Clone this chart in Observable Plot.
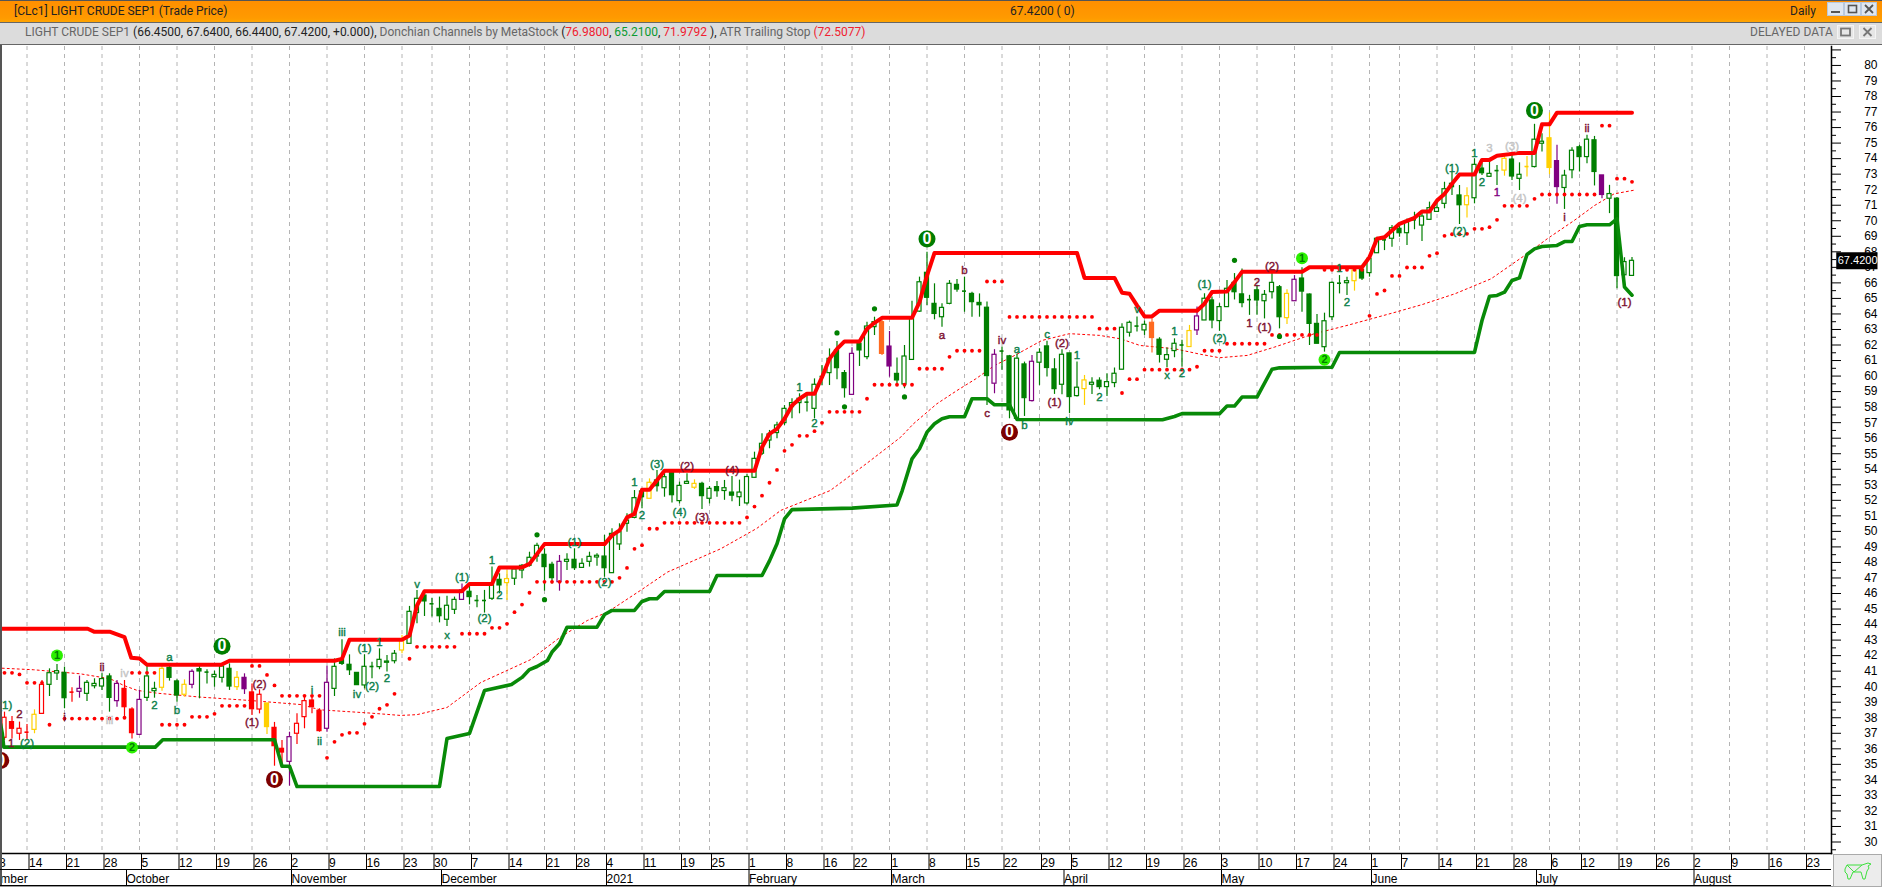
<!DOCTYPE html>
<html>
<head>
<meta charset="utf-8">
<script src="https://cdn.jsdelivr.net/npm/d3@7"></script>
<script src="https://cdn.jsdelivr.net/npm/@observablehq/plot@0.6"></script>
<style>
html,body{margin:0;padding:0;background:#fff;overflow:hidden}
#page{position:relative;width:1882px;height:887px;font-family:Roboto,"Noto Sans",sans-serif;font-size:12px;color:#222}
#chart{position:absolute;left:0;top:45px}
#chart svg{display:block}
.abs{position:absolute;white-space:nowrap}
#bar1{left:0;top:0;width:1882px;height:23px;background:linear-gradient(#ff8f00,#ff9a00 80%,#ffa400);border-top:1px solid #555;border-bottom:1px solid #666;box-sizing:border-box}
#bar2{left:0;top:23px;width:1882px;height:22px;background:#dcdcdc;border-bottom:1px solid #666;box-sizing:border-box}
.t1{top:4px;color:#222}
.t2{top:25px;color:#666}
.t2 b{font-weight:400;color:#222}
.rd{color:#f02030}.gr{color:#0a9a30}
.btn{background:#dfe6ef;border:1px solid #b9c8dc;box-sizing:border-box;height:14px;top:2px}
.btn2{background:#e6e6e6;border:1px solid #f4f4f4;box-sizing:border-box;height:14px;top:25px}
.btn svg,.btn2 svg{display:block;margin:auto}
</style>
</head>
<body>
<div id="page">
  <div id="chart"></div>
  <div class="abs" id="bar1"></div>
  <div class="abs" id="bar2"></div>
  <div class="abs t1" style="left:14px">[CLc1] LIGHT CRUDE SEP1 (Trade Price)</div>
  <div class="abs t1" style="left:1010px">67.4200 ( 0)</div>
  <div class="abs t1" style="left:1790px">Daily</div>
  <div class="abs btn" style="left:1827px;width:17px"><svg width="15" height="12"><rect x="3" y="8" width="9" height="2" fill="#555"/></svg></div>
  <div class="abs btn" style="left:1844px;width:17px"><svg width="15" height="12"><rect x="3.5" y="2.5" width="8" height="7" fill="none" stroke="#555" stroke-width="1.6"/></svg></div>
  <div class="abs btn" style="left:1861px;width:16px"><svg width="14" height="12"><path d="M3 2L11 10M11 2L3 10" stroke="#555" stroke-width="1.8"/></svg></div>
  <div class="abs t2" style="left:25px">LIGHT CRUDE SEP1 <b>(66.4500, 67.6400, 66.4400, 67.4200, +0.000),</b> Donchian Channels by MetaStock <b>(</b><span class="rd">76.9800</span><b>,</b> <span class="gr">65.2100</span><b>,</b> <span class="rd">71.9792</span> <b>),</b> ATR Trailing Stop <span class="rd">(72.5077)</span></div>
  <div class="abs t2" style="left:1750px">DELAYED DATA</div>
  <div class="abs btn2" style="left:1837px;width:17px"><svg width="15" height="12"><rect x="3" y="2.5" width="9" height="7" fill="none" stroke="#777" stroke-width="1.8"/></svg></div>
  <div class="abs btn2" style="left:1859px;width:17px"><svg width="15" height="12"><path d="M3.5 2L11.5 10M11.5 2L3.5 10" stroke="#777" stroke-width="1.8"/></svg></div>
  <div class="abs" style="left:0;top:45px;width:2px;height:842px;background:#555"></div>
  <div class="abs" style="left:0;top:869px;width:1831px;height:1px;background:#000"></div>
  <div class="abs" style="left:0;top:885px;width:1831px;height:1px;background:#000"></div>
  <div class="abs" style="left:0;top:886px;width:1882px;height:1px;background:#999"></div>
  <div class="abs" style="left:1833px;top:854px;width:49px;height:33px;background:#ececec;border:1px solid #aaa;box-sizing:border-box">
    <svg width="47" height="31"><path d="M11 14L13 10H28L34 8L37 9L34 11L35 13L33 16L31 24H29L27 17H19L16 24H14L13 19L11 17ZM13 10L20 17M28 10L20 17" fill="none" stroke="#3fe03f" stroke-width="1"/></svg>
  </div>
</div>
<script>
// Bars are numbered by trading session; session 0 is 14 September 2020.
const firstSession = -3;
const opens = [
36.71,37.72,36.97,37.07,37.22,38.25,40.12,40.85,40.89,39.65,
39.67,39.54,40.03,40.01,40.66,39.07,39.86,38.53,36.90,39.28,
39.71,39.93,41.21,40.34,39.48,40.12,41.13,40.94,40.61,40.57,
41.15,39.97,40.57,39.63,38.53,38.92,37.35,36.00,35.16,36.97,
38.04,39.11,38.45,37.29,39.86,41.73,41.41,40.89,40.08,41.30,
41.26,41.54,41.64,42.33,42.76,44.74,45.87,45.34,45.01,44.31,
44.95,45.59,46.11,45.55,45.55,45.66,46.88,46.67,46.95,47.48,
47.78,48.38,48.49,47.85,46.73,48.04,48.17,47.65,48.04,48.32,
48.38,47.31,49.16,50.49,50.87,52.57,52.10,53.28,52.78,53.81,
51.95,53.06,52.81,53.06,52.10,52.85,52.60,52.50,52.20,51.80,
53.45,55.00,55.85,56.33,56.97,58.00,58.26,58.32,57.89,59.97,
60.19,61.65,60.19,58.79,62.08,61.22,63.15,63.47,61.90,60.14,
59.46,61.04,64.15,66.65,64.65,63.79,64.65,65.87,65.47,65.29,
64.71,64.40,59.51,61.61,61.27,57.25,60.75,58.39,60.86,61.91,
60.43,59.44,61.46,58.71,59.16,59.44,59.70,59.29,59.55,60.41,
62.79,63.22,62.94,63.43,62.34,61.05,61.61,62.00,61.87,62.94,
63.58,64.87,63.54,64.44,66.00,65.26,64.92,65.52,64.82,65.40,
65.72,63.73,64.82,66.28,65.25,63.36,61.86,63.79,65.98,65.98,
66.11,66.84,66.63,67.91,68.77,68.84,69.48,69.20,70.06,69.69,
70.06,70.57,71.09,72.38,71.63,71.00,71.45,73.36,72.83,73.23,
73.23,73.94,72.70,73.49,73.46,74.96,75.31,73.84,72.11,73.25,
74.73,74.10,75.18,72.92,71.42,71.42,66.49,66.45];
const highs = [
38.36,38.08,37.72,37.57,38.51,40.40,41.15,41.43,41.26,39.93,
40.68,40.40,40.51,40.83,40.83,40.40,40.40,38.64,39.76,41.47,
40.29,41.30,41.37,40.44,40.44,41.09,41.32,41.09,41.00,41.47,
41.47,40.98,40.83,40.18,39.80,38.92,37.70,36.54,37.07,38.25,
39.43,39.43,38.58,41.32,41.79,43.02,42.05,40.89,42.05,41.58,
42.44,42.01,42.33,43.30,45.17,46.20,46.20,45.70,45.77,45.83,
45.77,46.62,46.62,45.87,46.20,47.70,47.27,47.48,47.70,47.87,
48.66,49.24,48.88,48.02,48.45,48.56,48.88,48.23,48.66,48.56,
49.74,50.17,50.49,51.13,52.63,52.74,53.38,53.92,53.81,53.92,
53.17,53.71,53.32,53.17,52.89,53.21,53.28,53.54,53.30,53.66,
55.10,56.28,56.50,57.03,58.10,58.54,58.86,58.86,59.82,60.68,
61.75,62.23,60.36,61.82,62.29,63.47,63.79,63.58,62.87,61.17,
61.97,64.82,66.37,67.98,65.94,64.65,66.15,66.22,66.37,65.40,
65.29,64.77,61.70,61.87,61.33,61.40,60.90,61.33,61.76,62.25,
61.12,61.70,61.46,60.90,60.04,59.89,59.89,60.15,60.52,63.37,
63.54,63.80,63.54,63.69,62.47,61.80,62.40,62.30,63.26,64.44,
65.30,65.09,64.66,66.16,66.60,66.90,65.20,65.84,65.51,66.63,
65.83,65.55,66.47,66.97,65.29,63.96,64.05,66.05,66.47,66.37,
67.01,67.05,67.76,68.94,69.05,69.69,69.80,70.12,70.55,70.55,
71.20,71.30,72.48,73.13,72.27,72.12,73.99,73.71,73.92,73.56,
74.14,74.31,73.73,74.14,76.21,75.61,76.94,74.86,73.25,74.70,
74.86,75.50,75.43,72.92,72.28,71.49,67.62,67.64];
const lows = [
36.54,36.64,36.54,36.54,36.97,38.25,39.37,40.40,38.58,39.00,
39.26,39.05,39.86,39.76,38.36,38.68,37.93,36.64,36.86,39.05,
39.26,39.71,40.36,39.00,39.33,39.86,39.22,40.18,39.97,40.23,
39.76,39.76,39.50,38.15,38.25,36.92,34.88,34.88,33.60,36.28,
37.29,38.25,37.07,37.07,39.37,41.37,40.72,40.08,39.86,40.51,
41.09,40.94,41.47,42.12,42.76,44.05,44.52,44.48,44.11,43.88,
44.65,45.55,45.27,45.08,44.74,45.55,45.98,45.55,46.52,46.95,
47.70,48.02,46.15,46.62,46.15,47.48,47.48,47.65,47.70,47.76,
47.05,47.31,48.77,49.95,50.81,51.45,52.10,52.53,52.20,51.82,
51.77,53.06,52.70,51.41,51.77,52.20,52.00,51.90,51.60,51.70,
53.45,54.89,55.32,55.96,56.82,57.25,57.57,57.68,57.25,59.39,
59.39,59.76,58.58,58.75,60.62,61.05,62.61,61.32,59.93,59.39,
59.18,61.04,64.10,64.54,63.62,63.15,64.59,65.40,64.11,63.79,
63.79,58.11,58.86,60.37,57.25,57.25,57.40,58.33,59.40,59.94,
58.82,58.80,57.58,58.65,58.11,58.82,59.12,58.69,59.25,60.41,
62.51,62.83,62.62,61.48,60.84,60.54,61.18,60.58,61.87,62.62,
63.58,63.05,62.88,64.44,64.90,64.40,63.91,63.91,63.68,64.97,
63.04,63.32,64.82,64.11,61.97,62.08,61.54,63.58,65.29,65.19,
65.47,66.15,66.37,67.91,68.08,68.30,68.94,68.41,69.42,68.66,
70.06,70.57,70.77,71.63,69.76,70.17,71.09,72.91,72.81,72.27,
72.87,72.59,71.95,72.81,73.40,74.43,72.97,71.06,70.73,72.71,
73.14,73.67,72.24,71.42,70.46,65.63,66.49,66.44];
const closes = [
38.00,37.29,37.29,37.07,38.19,40.12,40.87,41.00,39.26,39.65,
39.86,40.25,40.18,40.49,39.28,40.18,38.68,37.01,39.15,40.66,
39.86,41.15,40.57,39.43,40.12,40.96,40.98,40.94,40.76,41.30,
40.01,40.57,39.84,38.55,39.48,37.40,36.17,35.76,36.75,37.61,
39.07,38.70,37.14,40.25,41.28,41.47,41.06,40.10,41.28,41.30,
41.73,41.62,42.12,43.06,44.82,45.66,45.49,45.34,44.54,45.21,
45.59,46.20,45.77,45.55,45.55,46.67,46.52,46.93,47.55,47.78,
48.30,49.07,47.70,46.99,48.04,48.17,47.63,47.91,48.36,48.43,
47.63,49.84,49.95,50.70,52.14,52.20,53.13,52.91,53.49,52.33,
52.93,53.19,53.06,52.27,52.74,52.59,52.78,52.30,52.50,53.50,
54.67,55.64,56.24,56.82,57.89,58.26,58.54,58.32,59.44,59.97,
61.11,60.51,59.22,61.43,61.65,63.19,63.47,61.43,60.62,59.72,
61.26,63.68,66.04,65.04,64.00,64.39,65.94,65.57,65.47,64.76,
64.56,60.00,61.37,61.61,57.79,61.12,58.58,60.92,61.50,60.52,
59.16,61.37,58.65,59.25,59.72,59.57,59.29,59.61,60.15,63.11,
63.43,63.22,63.30,62.45,61.37,61.35,62.08,62.00,62.90,63.84,
64.98,63.58,64.44,65.62,65.40,64.70,64.92,64.87,65.23,66.00,
63.79,65.29,66.20,65.44,63.36,62.08,63.53,66.00,65.98,66.11,
66.80,66.28,67.55,68.84,68.77,69.52,69.20,69.91,70.06,70.27,
70.81,70.81,72.03,72.16,71.00,71.58,73.60,73.06,73.02,73.23,
73.99,72.85,72.96,73.49,75.22,75.09,73.40,72.17,72.90,74.51,
74.10,75.22,73.14,71.66,71.72,66.44,67.34,67.42];
const colorRuns = [[-3,0,"r"],[1,1,"y"],[2,2,"r"],[3,5,"g"],[6,6,"r"],[7,7,"p"],[8,11,"g"],[12,12,"p"],[13,14,"r"],[15,15,"p"],
 [16,17,"g"],[18,18,"y"],[19,20,"g"],[21,21,"y"],[22,22,"p"],[23,27,"g"],[28,28,"y"],[29,29,"p"],[30,31,"r"],[32,32,"y"],
 [33,34,"r"],[35,35,"p"],[36,39,"r"],[40,40,"p"],[41,49,"g"],[50,50,"y"],[51,57,"g"],[58,58,"p"],[59,63,"g"],[64,64,"y"],
 [65,70,"g"],[71,71,"p"],[72,82,"g"],[83,83,"y"],[84,88,"g"],[89,89,"y"],[90,109,"g"],[110,110,"p"],[111,113,"g"],[114,114,"o"],
 [115,115,"p"],[116,128,"g"],[129,129,"p"],[130,133,"g"],[134,134,"p"],[135,140,"g"],[141,141,"y"],[142,149,"g"],[150,150,"o"],
 [151,154,"g"],[155,155,"y"],[156,156,"p"],[157,167,"g"],[168,168,"y"],[169,169,"p"],[170,176,"g"],[177,177,"y"],[178,191,"g"],
 [192,192,"y"],[193,196,"g"],[197,197,"y"],[198,199,"g"],[200,200,"y"],[201,202,"g"],[203,203,"y"],[204,204,"p"],[205,209,"g"],
 [210,210,"p"],[211,214,"g"]];

const redX = [-3.53,8.1,9,11.1,13,13.9,15,16,25.9,27,41,42,43,50,51,52,53,58,59,62,63,66,67,69,77,78,79,80,81,82,83,85,97,98,99,100,101,102,103,104,105,106,107,108,109,111,112,113,114,118,119,120,121,140,141,145,146,147,148,149,150,151,156,157,158,160,161,162,170,171,178,179,180,181,182,183,185,186,187,188,189,190,191,193,194,195,196,199,201,202,203,204,214];
const redY = [43.73,43.73,43.53,43.53,43.19,41.86,41.82,41.41,41.41,41.67,41.67,41.79,43.02,43.02,43.30,45.23,46.15,46.15,46.62,46.62,47.68,47.68,47.91,49.18,49.18,49.74,50.06,50.90,51.13,52.68,52.68,53.90,53.90,55.42,56.28,56.60,57.25,58.11,58.54,58.86,58.86,59.93,61.11,61.75,62.23,62.23,63.04,63.43,63.75,63.75,64.76,66.47,67.93,67.93,66.32,66.32,65.37,65.30,64.55,63.84,63.84,64.21,64.21,64.66,65.41,65.45,66.05,66.71,66.71,67.01,67.01,67.66,68.84,68.94,69.37,69.80,70.19,70.60,70.60,71.30,71.73,72.38,72.98,72.98,73.92,73.92,74.18,74.37,74.37,76.21,76.21,76.96,76.96];
const greenX = [-3.53,-3.3,-3.1,17.1,18.1,33,34,35,36,55,56,59,61,64.6,66,67,68,69.4,70,71,72,76,77,78,81,82,83,84,85,91,92,98,99,100,101,102,110,116,116.7,118,119,120,121,122,123,125,126,128,129,131,132,151.4,153,154,159,160,161,162,164,166,167,174,175,193,194,195,196,197,198,199,200,201,202,204,205,206,207,208,211,212,213,214];
const greenY = [37.61,37.0,36.11,36.11,36.58,36.58,34.88,34.88,33.57,33.57,36.66,36.99,39.75,40.14,40.6,41.1,41.3,41.69,42.23,42.76,43.83,43.83,44.65,44.91,44.91,45.49,45.66,45.66,46.13,46.13,47.16,47.16,48.1,49.2,50.8,51.4,51.5,51.7,52.63,54.67,55.32,56.39,56.93,57.25,57.38,57.38,58.54,58.54,58.15,58.15,57.20,57.19,57.40,57.58,57.58,58.07,58.07,58.65,58.65,60.44,60.53,60.57,61.52,61.52,63.58,65.14,65.19,65.40,66.15,66.32,67.83,68.19,68.34,68.41,68.66,68.66,69.63,69.74,69.74,70.12,65.73,65.21];
const midX = [-3.3,0.9,7.1,11.1,12.9,14.7,17.4,23.1,29.8,36.5,39.1,45.8,49.8,52,56,60.5,67.1,71.1,74.7,77.4,81.8,85.4,92.5,97.3,100.5,107.1,112,116.5,118.2,121.3,124,126.5,129,131.7,135.3,139,143,145.8,148.4,153,156.5,159,162.7,166.3,171.6,176,179.2,182,186,190.4,195.2,200,202.7,206.3,209,211.6,214.4];
const midY = [41.19,41.09,40.83,40.51,40.08,39.76,39.58,39.33,39.11,38.85,38.51,38.30,38.15,38.20,38.66,40.27,41.73,43.19,44.26,44.80,46.20,47.38,48.88,50.19,51.35,52.63,54.39,56.07,56.93,58.21,59.07,59.82,60.68,61.33,62.29,62.73,62.62,62.40,61.97,61.76,61.40,61.18,61.33,61.86,62.72,63.26,63.68,64.05,64.60,65.30,66.26,67.87,68.84,70.02,70.98,71.73,71.98];
// ATR trailing stop: [first session, last session, stop level]
const atrRuns = [[-3,-2,40.89],[-1,-1,40.79],[0,2,40.25],[3,3,37.55],[5,12,37.95],[13,13,38.0],[14,17,40.89],[18,21,37.55],[22,24,38.06],[25,25,38.25],[26,29,38.77],[30,31,41.34],[32,32,40.76],[33,33,40.08],[34,39,39.41],[40,40,35.42],[41,41,36.45],[42,42,36.9],[43,44,37.03],[45,45,37.61],[46,46,38.06],[47,47,38.58],[48,48,38.83],[49,49,39.54],[51,51,41.8],[52,57,42.57],[58,61,43.41],[62,63,43.79],[64,64,44.05],[65,65,44.8],[66,66,45.29],[67,67,46.05],[68,78,46.75],[79,79,47.01],[80,80,47.65],[81,81,48.88],[82,82,49.11],[83,84,50.17],[85,95,50.55],[96,96,50.9],[97,97,51.6],[98,98,52.3],[99,99,53.13],[100,100,53.96],[101,101,55.19],[102,102,55.57],[103,104,56.15],[105,105,56.45],[106,106,56.99],[107,111,57.7],[112,112,58.54],[113,118,59.44],[119,122,60.47],[123,123,61.24],[124,127,61.63],[128,130,66.09],[131,142,63.81],[143,145,63.05],[146,146,58.91],[147,148,59.8],[149,155,60.41],[156,156,60.6],[157,159,61.63],[160,165,62.08],[166,172,62.65],[173,178,66.84],[179,179,63.88],[180,180,65.29],[181,181,65.51],[182,183,66.45],[184,186,66.99],[187,187,67.74],[188,188,67.91],[189,189,69.03],[190,191,69.13],[192,192,69.16],[193,194,69.48],[195,195,69.59],[196,196,70.06],[197,200,70.96],[201,201,71.41],[202,209,71.69],[210,211,76.12],[212,213,72.71],[214,214,72.51]];
const swingX = [68,69,108,109,113,117,161,167];
const swingY = [49.78,45.6,62.78,58.02,64.33,58.66,67.45,62.55];

const labelX = [-2.9,-2.1,0,-1,5,10,11,13,17,19,20,31,30,38,39,42,45,44,46,47,48,52,56,58,61,62,63,73,77,81,82,84,88,87,90,94,103,105,122,125,128,130,132,133,136,138,137,140,139,143,148,152,153,154,157,159,163,165,164,166,175,176,190,191,193,194,195,196,198,199,205,208,213];
const labelY = [38.83,36.37,36.37,38.21,38.04,41.26,37.82,40.89,38.79,41.86,38.47,40.14,37.72,39.76,36.47,43.49,42.48,39.5,40.03,42.87,40.57,46.62,43.32,47.05,44.39,48.13,45.87,49.31,46.69,53.15,51.02,54.35,54.18,51.24,50.92,53.92,59.29,56.93,62.61,66.8,57.63,62.29,61.75,56.86,62.66,62.14,58.32,61.32,57.08,58.65,64.29,60.02,62.88,60.15,65.88,62.4,63.37,63.16,66.05,67.05,66.95,64.72,73.38,69.31,74.37,72.48,74.67,71.8,74.8,71.45,70.23,75.97,64.72];
const labelText = ["(1)","1","(2)","2","i","ii","iii","iv","2","a","b","(2)","(1)","i","ii","iii","(1)","iv","(2)","1","2","v","x","(1)","(2)","1","2","(1)","(2)","1","2","(3)","(2)","(4)","(3)","(4)","1","2","a","b","c","iv","a","b","c","(2)","(1)","1","iv","2","v","x","1","2","(1)","(2)","1","(1)","2","(2)","1","2","(1)","(2)","1","2","3","1","(3)","(4)","i","ii","(1)"];
const labelKind = "gmgmmmll"+"ggg"+"mm"+"ggggggggggggggggggg"+"m"+"g"+"mm"+"gg"+"mmmm"+"ggg"+"mm"+"ggggggggg"+"mmmm"+"gggggg"+"l"+"p"+"ll"+"mmm";

const zeroX = [-3.5,26,33,120,131,201];
const zeroY = [35.25,42.61,34.03,68.83,56.39,77.1];
const zeroFill = ["#7d0000","#007d00","#7d0000","#007d00","#7d0000","#007d00"];
const pivotX = [4,14,173,170];
const pivotY = [42.01,36.09,61.05,67.59];
const pivotText = ["1","2","2","1"];

const weekTicks = [-4,0,5,10,15,20,25,30,35,40,45,50,54,59,64,69,73,77,82,87,91,96,101,106,110,115,120,125,130,135,139,144,149,154,159,164,169,174,179,183,188,193,198,203,207,212,217,222,227,232,237];
const weekLabels = ["8","14","21","28","5","12","19","26","2","9","16","23","30","7","14","21","28","4","11","19","25","1","8","16","22","1","8","15","22","29","5","12","19","26","3","10","17","24","1","7","14","21","28","6","12","19","26","2","9","16","23"];
const monthTicks = [-8,13,35,55,77,96,115,138,159,179,201,222];
const monthLabels = ["September","October","November","December","2021","February","March","April","May","June","July","August"];
const priceTicks = d3.range(30,82);
const priceHalfTicks = d3.range(29.5,81,1);
const lastClose = closes[closes.length-1];

const palette = {g:"#007f00",r:"#ff0000",y:"#ffd000",p:"#800080",o:"#ff6a20"};
const kindColor = {g:"#0b7f4a",m:"#7d1030",l:"#c4c4c4",p:"#800080"};

const colorOf = new Map(colorRuns.flatMap(([a,b,c]) => d3.range(a,b+1).map(i => [i,palette[c]])));
const bars = opens.map((o,k) => ({i:firstSession+k, open:o, high:highs[k], low:lows[k], close:closes[k], color:colorOf.get(firstSession+k)}));
const atr = atrRuns.flatMap(([a,b,v]) => d3.range(a,b+1).map(i => ({i,v})));
const labels = labelX.map((x,k) => ({x,y:labelY[k],t:labelText[k],c:kindColor[labelKind[k]]}));
const zeros = zeroX.map((x,k) => ({x,y:zeroY[k],c:zeroFill[k]}));
const pivots = pivotX.map((x,k) => ({x,y:pivotY[k],t:pivotText[k]}));
const weekName = new Map(weekTicks.map((t,k) => [t,weekLabels[k]]));
const monthName = new Map(monthTicks.map((t,k) => [t,monthLabels[k]]));
const halfBody = 0.27;
const tagLeft = 241.3, tagRight = 246.8;

const plot = Plot.plot({
  width:1882, height:842, marginLeft:0, marginRight:51, marginTop:1, marginBottom:34,
  style:{background:"transparent", fontFamily:"'Liberation Sans',Arial,sans-serif", fontSize:"12px", color:"#000"},
  x:{type:"linear", domain:[-26.5/7.5,(1831-26.5)/7.5], range:[0,1831]},
  y:{type:"linear", domain:[29.26,81.22]},
  marks:[
    Plot.ruleX(weekTicks.filter(t => t > -3.5), {stroke:"#b4b4b4", strokeDasharray:"4,4", strokeWidth:1}),
    Plot.line(midX, {x:midX, y:midY, stroke:"#ff0000", strokeWidth:1, strokeDasharray:"2,3"}),
    Plot.ruleX(bars, {x:"i", y1:"low", y2:"high", stroke:"color", strokeWidth:1.2}),
    Plot.rect(bars.filter(d => d.open !== d.close), {x1:d => d.i-halfBody, x2:d => d.i+halfBody, y1:"open", y2:"close", fill:d => d.close < d.open ? d.color : "#ffffff", stroke:"color", strokeWidth:1.2}),
    Plot.ruleY(bars.filter(d => d.open === d.close), {y:"close", x1:d => d.i-halfBody, x2:d => d.i+halfBody, stroke:"color", strokeWidth:1.6}),
    Plot.line(redX, {x:redX, y:redY, stroke:"#ff0000", strokeWidth:4, strokeLinejoin:"round"}),
    Plot.line(greenX, {x:greenX, y:greenY, stroke:"#088a08", strokeWidth:3.6, strokeLinejoin:"round"}),
    Plot.dot(atr, {x:"i", y:"v", r:1.9, fill:"#ff0000"}),
    Plot.dot(swingX, {x:swingX, y:swingY, r:2.6, fill:"#008000"}),
    Plot.text(labels, {x:"x", y:"y", text:"t", fill:"c", stroke:"c", strokeWidth:0.4, fontSize:11.5}),
    Plot.dot(zeros, {x:"x", y:"y", r:8.5, fill:"c"}),
    Plot.text(zeros, {x:"x", y:"y", text:() => "0", fill:"#fff", fontSize:16, fontWeight:"bold"}),
    Plot.dot(pivots, {x:"x", y:"y", r:6, fill:"#2cf000"}),
    Plot.text(pivots, {x:"x", y:"y", text:"t", fill:"#007f00", fontSize:11, fontWeight:"bold"}),
    Plot.frame({anchor:"right", stroke:"#000", strokeWidth:1.5}),
    Plot.frame({anchor:"bottom", stroke:"#000", strokeWidth:1.5}),
    Plot.axisY(priceTicks, {anchor:"right", tickSize:9, tickPadding:37, textAnchor:"end", tickFormat:d => d > 80 ? "" : d, label:null, fontSize:12, stroke:"#000"}),
    Plot.axisY(priceHalfTicks, {anchor:"right", tickSize:4, label:null, tickFormat:() => "", stroke:"#000"}),
    Plot.axisX(weekTicks, {anchor:"bottom", tickSize:16, tickPadding:-11, textAnchor:"start", dx:2, tickFormat:d => weekName.get(d), label:null, fontSize:12, stroke:"#000"}),
    Plot.axisX(monthTicks, {anchor:"bottom", tickSize:16, tickPadding:-11, textAnchor:"start", dx:2, dy:16, tickFormat:d => monthName.get(d), label:null, fontSize:12, stroke:"#000"}),
    Plot.ruleY([lastClose], {x1:tagLeft, x2:tagRight, stroke:"#000", strokeWidth:17}),
    Plot.text([lastClose], {x:tagLeft, y:d => d, text:d => d.toFixed(4), dx:1, textAnchor:"start", fill:"#fff", fontSize:11})
  ]
});
document.getElementById("chart").appendChild(plot);
</script>
</body>
</html>
